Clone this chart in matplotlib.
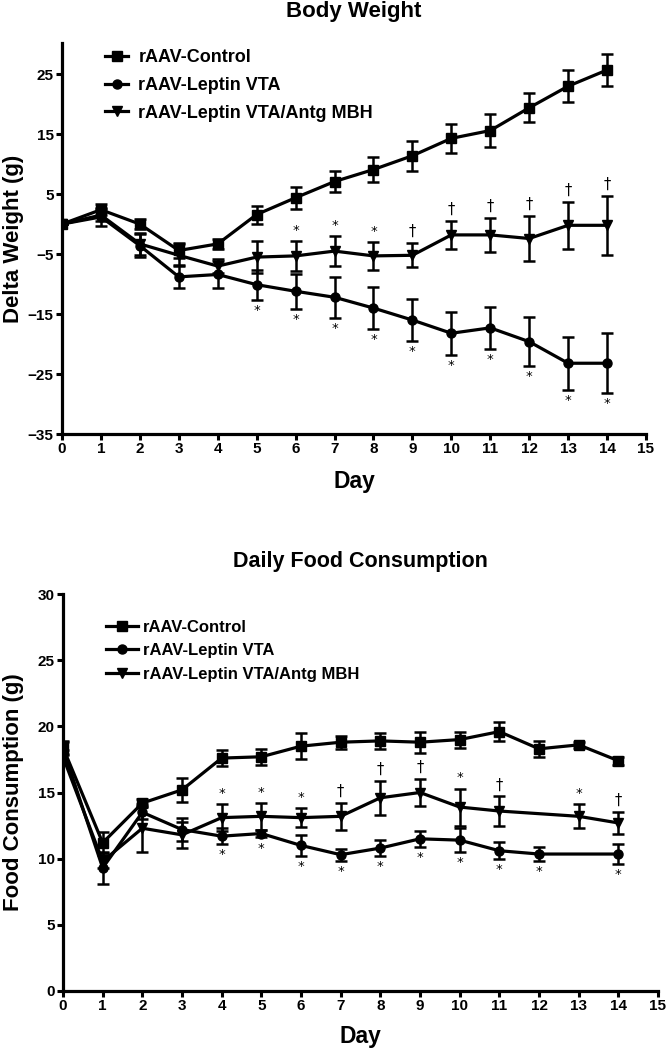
import matplotlib
matplotlib.use("Agg")
import matplotlib.pyplot as plt

plt.rcParams['font.family'] = ['Liberation Sans', 'DejaVu Sans']
plt.rcParams['font.weight'] = 'bold'

# ---------------- Data: Body Weight ----------------
days = list(range(15))
labels = ["rAAV-Control", "rAAV-Leptin VTA", "rAAV-Leptin VTA/Antg MBH"]

bw_ctrl = [0, 2.4, 0.0, -4.4, -3.3, 1.6, 4.4, 7.1, 9.1, 11.4, 14.3, 15.6, 19.4, 23.0, 25.7]
bw_ctrl_err = [0, 0.9, 0.8, 1.2, 0.9, 1.5, 1.8, 1.8, 2.1, 2.5, 2.4, 2.7, 2.4, 2.7, 2.7]
bw_lep = [0, 1.2, -3.6, -8.8, -8.4, -10.1, -11.2, -12.2, -14.0, -16.0, -18.2, -17.3, -19.6, -23.2, -23.2]
bw_lep_err = [0, 1.5, 1.9, 1.9, 2.3, 2.5, 2.9, 3.4, 3.5, 3.5, 3.6, 3.5, 4.1, 4.4, 5.0]
bw_tri = [0, 1.5, -3.3, -5.2, -7.0, -5.5, -5.3, -4.5, -5.3, -5.2, -1.8, -1.8, -2.4, -0.2, -0.2]
bw_tri_err = [0, 1.0, 1.8, 1.8, 1.2, 2.6, 2.5, 2.5, 2.3, 2.0, 2.4, 2.8, 3.7, 3.9, 4.9]

bw_tri_sig_days = [6, 7, 8, 9, 10, 11, 12, 13, 14]
bw_tri_sig_syms = ['*', '*', '*', '†', '†', '†', '†', '†', '†']
bw_lep_sig_days = [5, 6, 7, 8, 9, 10, 11, 12, 13, 14]

# ---------------- Data: Daily Food Consumption ----------------
fc_ctrl_days = list(range(15))
fc_ctrl = [18.4, 11.2, 14.2, 15.2, 17.6, 17.7, 18.5, 18.8, 18.9, 18.8, 19.0, 19.6, 18.3, 18.6, 17.4]
fc_ctrl_err = [0.5, 0.8, 0.3, 0.9, 0.6, 0.6, 1.0, 0.5, 0.6, 0.8, 0.6, 0.7, 0.6, 0.2, 0.3]
fc_lep_days = [0, 1, 2, 3, 4, 5, 6, 7, 8, 9, 10, 11, 12, 14]
fc_lep = [18.3, 9.3, 13.5, 12.2, 11.7, 11.9, 11.0, 10.3, 10.8, 11.5, 11.4, 10.6, 10.35, 10.35]
fc_lep_err = [0.5, 1.2, 0.5, 0.9, 0.6, 0.3, 0.8, 0.45, 0.6, 0.6, 0.9, 0.65, 0.55, 0.75]
fc_tri_days = [0, 1, 2, 3, 4, 5, 6, 7, 8, 9, 10, 11, 13, 14]
fc_tri = [17.7, 9.8, 12.3, 11.8, 13.1, 13.2, 13.1, 13.2, 14.6, 15.0, 13.9, 13.6, 13.2, 12.7]
fc_tri_err = [0.5, 0.5, 1.8, 1.0, 1.0, 1.0, 0.7, 1.0, 1.3, 1.0, 1.4, 1.1, 0.9, 0.8]

fc_tri_sig_days = [4, 5, 6, 7, 8, 9, 10, 11, 13, 14]
fc_tri_sig_syms = ['*', '*', '*', '†', '†', '†', '*', '†', '*', '†']
fc_lep_sig_days = [4, 5, 6, 7, 8, 9, 10, 11, 12, 14]

fig = plt.figure(figsize=(6.66, 10.48), dpi=100)
W, H = 666, 1048


def add_ax(x0, x1, ytop, ybot):
    return fig.add_axes([x0 / W, 1 - ybot / H, (x1 - x0) / W, (ybot - ytop) / H])


def style(ax):
    for s in ['top', 'right']:
        ax.spines[s].set_visible(False)
    for s in ['left', 'bottom']:
        ax.spines[s].set_linewidth(2.3)
    ax.tick_params(direction='out', length=4, width=2.2, labelsize=11, pad=2)
    for lab in ax.get_xticklabels() + ax.get_yticklabels():
        lab.set_fontweight('bold')


eb_kw = dict(color='black', lw=2.3, ms=6.5, capsize=4.5, elinewidth=1.8, capthick=1.8)


def draw(ax, series):
    hs = []
    for (xs, ys, es, mk, lab) in series:
        h = ax.errorbar(xs, ys, yerr=es, fmt='-' + mk, label=lab, **eb_kw)
        hs.append(h[0])
    return hs


def marks(ax, xs_all, ys_all, es_all, sig_days, syms, up, off):
    for d, s in zip(sig_days, syms):
        i = xs_all.index(d)
        y = ys_all[i] + es_all[i] if up else ys_all[i] - es_all[i]
        fs = 9.5 if s == '*' else 10.5
        ax.annotate(s, (d, y), xytext=(0, off if up else -off), textcoords='offset points',
                    ha='center', va='bottom' if up else 'top', fontsize=fs,
                    fontweight='normal', family='DejaVu Sans')


# ---------- Top chart ----------
ax1 = add_ax(62, 646, 43, 434)
h1 = draw(ax1, [(days, bw_ctrl, bw_ctrl_err, 's', labels[0]),
                (days, bw_lep, bw_lep_err, 'o', labels[1]),
                (days, bw_tri, bw_tri_err, 'v', labels[2])])
ax1.set_xlim(0, 15)
ax1.set_ylim(-35, 30.2)
ax1.set_xticks(range(16))
ax1.set_yticks([25, 15, 5, -5, -15, -25, -35])
style(ax1)
marks(ax1, days, bw_tri, bw_tri_err, bw_tri_sig_days, bw_tri_sig_syms, True, 3)
marks(ax1, days, bw_lep, bw_lep_err, bw_lep_sig_days, ['*'] * len(bw_lep_sig_days), False, 3)
ax1.text(0.5, (434 - 11) / 391, "Body Weight", transform=ax1.transAxes, ha='center', va='center',
         fontsize=16, fontweight='bold')
ax1.set_xlabel("Day", fontsize=16.5, fontweight='bold')
ax1.xaxis.set_label_coords(0.5, (434 - 470) / 391)
ax1.set_ylabel("Delta Weight (g)", fontsize=16, fontweight='bold')
ax1.yaxis.set_label_coords((24 - 62) / 584, 0.5)
ax1.legend(handles=h1, labels=labels, loc='upper left',
           bbox_to_anchor=((105 - 62) / 584, 1 - (49 - 43) / 391), frameon=False,
           fontsize=13, handlelength=1.3, handletextpad=0.55, labelspacing=0.6,
           borderpad=0, borderaxespad=0)

# ---------- Bottom chart ----------
ax2 = add_ax(63, 658, 594, 991)
h2 = draw(ax2, [(fc_ctrl_days, fc_ctrl, fc_ctrl_err, 's', labels[0]),
                (fc_lep_days, fc_lep, fc_lep_err, 'o', labels[1]),
                (fc_tri_days, fc_tri, fc_tri_err, 'v', labels[2])])
ax2.set_xlim(0, 15)
ax2.set_ylim(0, 30)
ax2.set_xticks(range(16))
ax2.set_yticks(range(0, 31, 5))
style(ax2)
marks(ax2, fc_tri_days, fc_tri, fc_tri_err, fc_tri_sig_days, fc_tri_sig_syms, True, 3)
marks(ax2, fc_lep_days, fc_lep, fc_lep_err, fc_lep_sig_days, ['*'] * len(fc_lep_sig_days), False, 3)
ax2.text(0.5, (991 - 562) / 397, "Daily Food Consumption", transform=ax2.transAxes, ha='center',
         va='center', fontsize=15.5, fontweight='bold')
ax2.set_xlabel("Day", fontsize=16.5, fontweight='bold')
ax2.xaxis.set_label_coords(0.5, (991 - 1025) / 397)
ax2.set_ylabel("Food Consumption (g)", fontsize=16, fontweight='bold')
ax2.yaxis.set_label_coords((24 - 63) / 595, 0.5)
ax2.legend(handles=h2, labels=labels, loc='upper left',
           bbox_to_anchor=((106 - 63) / 595, 1 - (620 - 594) / 397), frameon=False,
           fontsize=12, handlelength=1.9, handletextpad=0.3, labelspacing=0.5,
           borderpad=0, borderaxespad=0)

fig.savefig("out.png", dpi=100)
